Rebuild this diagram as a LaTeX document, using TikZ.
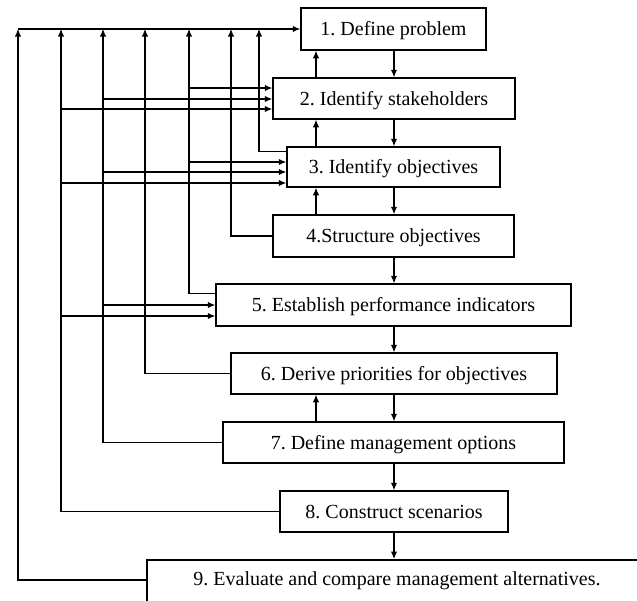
\documentclass[tikz,border=0pt]{standalone}
\usepackage{fontspec}
\setmainfont{Liberation Serif}
\usetikzlibrary{arrows.meta,calc}
\frenchspacing
\begin{document}
\begin{tikzpicture}[x=1pt,y=-1pt,
  box/.style={draw,line width=1.5pt,inner sep=0pt,text height=13.2pt,text depth=0pt,font=\fontsize{20}{24}\selectfont},
  lbl/.style={inner sep=0pt,text height=13.2pt,text depth=0pt,font=\fontsize{20}{24}\selectfont},
  conn/.style={line width=1.1pt},
  arr/.style={conn,-{Latex[length=7.5pt,width=6.5pt]}}]
\clip (0,0) rectangle (637,600);
\fill[white] (0,0) rectangle (637,600);
% boxes
\node[box,minimum width=185pt,minimum height=42pt] (n1) at (393.5,29) {1. Define problem};
\node[box,minimum width=242pt,minimum height=41pt] (n2) at (394,98.5) {2. Identify stakeholders};
\node[box,minimum width=213pt,minimum height=40pt] (n3) at (393.5,167) {3. Identify objectives};
\node[box,minimum width=241pt,minimum height=42pt] (n4) at (393.5,236) {4.Structure objectives};
\node[box,minimum width=355pt,minimum height=42pt] (n5) at (393.5,305) {5. Establish performance indicators};
\node[box,minimum width=326pt,minimum height=41pt] (n6) at (394,373.5) {6. Derive priorities for objectives};
\node[box,minimum width=341pt,minimum height=41pt] (n7) at (393.5,442.5) {7. Define management options};
\node[box,minimum width=228pt,minimum height=41pt] (n8) at (394,511.5) {8. Construct scenarios};
\node[box,minimum width=520pt,minimum height=60pt,anchor=north west] (n9) at (146,559) {};
\node[lbl] (t9) at (397,579) {9. Evaluate and compare management alternatives.};
% coordinates of the feedback risers
\coordinate (v3) at (259,29);
\coordinate (v4) at (231,29);
\coordinate (v5) at (189,29);
\coordinate (v6) at (145,29);
\coordinate (v7) at (103,29);
\coordinate (v8) at (61,29);
\coordinate (v9) at (18,29);
\coordinate (cx) at (394,0);
\coordinate (ux) at (316,0);
% downward chain
\foreach \a/\b in {n1/n2,n2/n3,n3/n4,n4/n5,n5/n6,n6/n7,n7/n8,n8/n9}
  \draw[arr] (\a.south -| cx) -- (\b.north -| cx);
% upward arrows
\foreach \a/\b in {n2/n1,n3/n2,n4/n3,n7/n6}
  \draw[arr] (\a.north -| ux) -- (\b.south -| ux);
% feedback risers
\draw[arr] ([yshift=-5pt]n3.north west) -| (v3);
\draw[arr] (n4.west) -| (v4);
\draw[arr] ([yshift=-10pt]n5.north west) -| (v5);
\draw[arr] (n6.west) -| (v6);
\draw[arr] (n7.west) -| (v7);
\draw[arr] (n8.west) -| (v8);
\draw[arr] (n9.west |- 0,580) -| (v9);
% top line to box 1
\draw[arr] (v9) -- (n1.west);
% arrows into box 2
\draw[arr] (v5 |- 0,88) -- (n2.west |- 0,88);
\draw[arr] (v7 |- 0,99) -- (n2.west |- 0,99);
\draw[arr] (v8 |- 0,109) -- (n2.west |- 0,109);
% arrows into box 3
\draw[arr] (v5 |- 0,162) -- (n3.west |- 0,162);
\draw[arr] (v7 |- 0,172) -- (n3.west |- 0,172);
\draw[arr] (v8 |- 0,183) -- (n3.west |- 0,183);
% arrows into box 5
\draw[arr] (v7 |- 0,305) -- (n5.west |- 0,305);
\draw[arr] (v8 |- 0,316) -- (n5.west |- 0,316);
\end{tikzpicture}
\end{document}
